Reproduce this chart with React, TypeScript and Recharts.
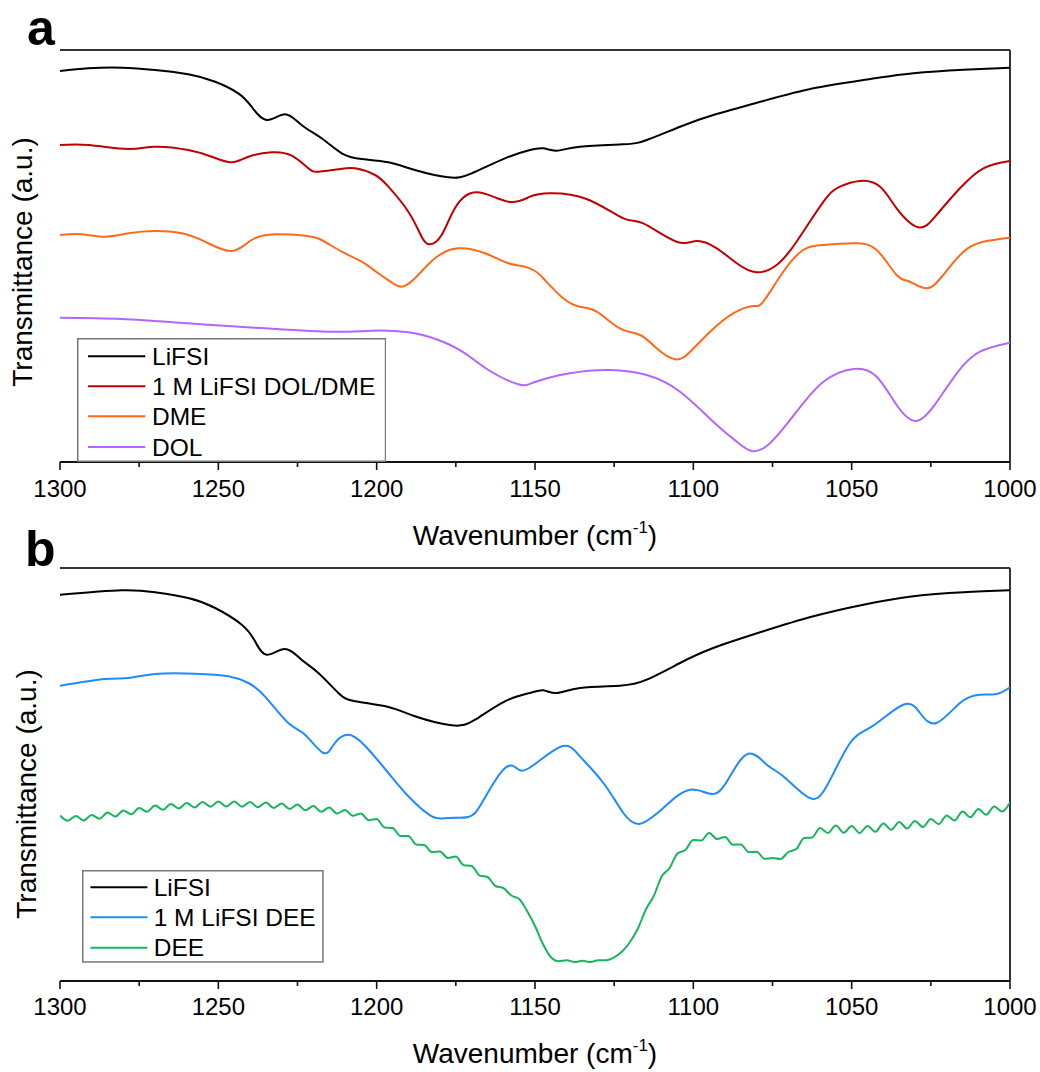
import React from 'react';
import { LineChart, Line, XAxis, YAxis, Legend, Customized, ReferenceLine } from 'recharts';

const FONT = "'Liberation Sans', Arial, Helvetica, sans-serif";
const W = 1040;
const H = 1072;

// x axis ticks (wavenumber, cm-1)
const wnTicks = [1300, 1275, 1250, 1225, 1200, 1175, 1150, 1125, 1100, 1075, 1050, 1025, 1000];
const wnLabels = [1300, 1250, 1200, 1150, 1100, 1050, 1000];

// series names and colours
const namesA = ['LiFSI', '1 M LiFSI DOL/DME', 'DME', 'DOL'];
const namesB = ['LiFSI', '1 M LiFSI DEE', 'DEE'];
const colorsA = ['#000000', '#C00000', '#FF6A1A', '#B266FF'];
const colorsB = ['#000000', '#1E8CFF', '#17B55C'];

type Pt = [number, number];

// panel a  (wavenumber, transmittance a.u.)
const lifsiA: Pt[] = [
  [1300, 391], [1291, 393.7], [1280.5, 394.3], [1270, 392], [1259.5, 387.7], [1251, 380.3], [1243.7, 368.7],
  [1239.5, 355.3], [1234.7, 342], [1229, 347.7], [1223.7, 337], [1217.4, 323.7], [1211, 308.7], [1204.7, 303],
  [1196.3, 299.7], [1187.9, 292], [1177.4, 284.7], [1170, 288.7], [1159.5, 303.7], [1151.6, 312], [1147.4, 313.7],
  [1143.2, 311.3], [1135.8, 315.3], [1122.1, 317.7], [1114.7, 322], [1104.2, 335.3], [1093.7, 347], [1077.9, 361],
  [1062.1, 373.7], [1046.3, 382], [1030.5, 388.7], [1014.7, 392.3], [1000, 394.3],
];
const dolDmeA: Pt[] = [
  [1300, 317], [1291, 317], [1278.4, 313], [1270, 315.3], [1259.5, 312], [1252.1, 305.3], [1245.8, 299.7],
  [1240.5, 305.3], [1233.2, 309.7], [1226.8, 306.3], [1221.6, 293.7], [1218.4, 290.3], [1212.1, 292.7],
  [1206.8, 293.7], [1200.5, 287], [1196.3, 275.3], [1190, 250.3], [1185.8, 225.3], [1183.2, 217.7], [1179.5, 227],
  [1175.3, 253.7], [1168.4, 269.7], [1158.4, 260.3], [1151.6, 265.3], [1145.3, 268.7], [1133.7, 263],
  [1122.1, 243.7], [1115.8, 238.7], [1105.3, 220.3], [1099, 221], [1092.6, 213.7], [1086.3, 198.7], [1080, 189.7],
  [1073.7, 197], [1067.4, 220.3], [1058.9, 260.3], [1053.7, 275.3], [1047.4, 281], [1041, 275.3], [1035.8, 253.7],
  [1028.9, 234.7], [1023.2, 247], [1015.8, 273.7], [1008.4, 293.7], [1000, 301],
];
const dmeA: Pt[] = [
  [1300, 227], [1293, 227.7], [1285.8, 225.3], [1278.4, 228.7], [1270, 231], [1261.6, 228.7], [1254.2, 220.3],
  [1245.8, 211], [1239.5, 222], [1232.1, 227.7], [1222.6, 226.3], [1217.4, 222], [1211, 210.3], [1204.7, 200.3],
  [1199.5, 188.7], [1195.3, 179.7], [1192.1, 175.3], [1187.9, 183.7], [1181.6, 203.7], [1174.2, 213.7],
  [1165.8, 208.7], [1158.4, 198.7], [1153.2, 195.3], [1150, 191], [1147.4, 183.7], [1141.1, 163.7],
  [1135.8, 155.3], [1130.5, 150.3], [1123.2, 133.7], [1116.8, 127], [1111.6, 113.7], [1105.8, 102.7],
  [1101, 110.3], [1094.7, 130.3], [1087.4, 148.7], [1081.1, 156], [1077.9, 160.3], [1071.6, 190.3], [1065.3, 212],
  [1058.9, 217], [1049.5, 218.7], [1042.1, 212], [1035.8, 187], [1031.6, 180.3], [1026.3, 173.7], [1021.1, 187],
  [1014.7, 210.3], [1008.4, 220.3], [1000, 224.3],
];
const dolA: Pt[] = [
  [1300, 144.3], [1280.5, 143], [1259.5, 138.7], [1238.4, 134.3], [1215.3, 130.3], [1201.6, 131.3], [1190, 129.7],
  [1180.5, 122], [1172.1, 108.7], [1164.7, 92], [1155.3, 77.7], [1150, 80], [1139, 88.7], [1126.3, 92],
  [1114.7, 87], [1104.2, 70.3], [1093.7, 40.3], [1086.3, 20.3], [1081.6, 11], [1075.8, 18.7], [1067.4, 50.3],
  [1058.9, 80.3], [1049.5, 93], [1042.1, 85.3], [1035.8, 57], [1030, 41], [1024.2, 55.3], [1016.8, 88.7],
  [1009.5, 110.3], [1000, 119.3],
];

// panel b
const lifsiB: Pt[] = [
  [1300, 386.3], [1280.5, 390.7], [1270, 388.7], [1259.5, 383], [1251, 373], [1242.6, 356.3], [1238.4, 339.7],
  [1234.7, 326.3], [1229, 332], [1223.7, 321.3], [1218.4, 308], [1212.1, 288], [1206.8, 279.7], [1196.3, 274],
  [1187.9, 264.7], [1176.3, 255.7], [1168.9, 261.3], [1159.5, 279.7], [1151.6, 288], [1147.4, 290.7],
  [1143.2, 288], [1135.8, 293], [1123.2, 295.3], [1114.7, 301.3], [1104.2, 318], [1093.7, 333], [1077.9, 349.7],
  [1062.1, 364.7], [1046.3, 376.3], [1030.5, 384.7], [1014.7, 388.7], [1000, 390.7],
];
const lifsiDeeB: Pt[] = [
  [1300, 295.3], [1285.8, 302], [1278.4, 303], [1270, 307], [1257.4, 307.3], [1246.8, 304.7], [1240.5, 298],
  [1235.3, 284.7], [1227.9, 258], [1222.6, 246.3], [1216.8, 228], [1213.2, 238], [1208.9, 246.3], [1203.7, 235.3],
  [1196.3, 208], [1190, 184.7], [1182.6, 164.7], [1177.4, 163], [1171.1, 164], [1166.8, 178], [1160.5, 209.7],
  [1156.3, 214], [1152.1, 212.5], [1142.1, 234], [1135.8, 224.7], [1128.4, 198], [1122.1, 168], [1116.8, 157.3],
  [1109.5, 173], [1101, 191.3], [1093.7, 187], [1088.4, 204.7], [1082.6, 227.3], [1076.8, 216.3], [1071.6, 204.7],
  [1063.7, 183.7], [1057.9, 194.7], [1050.5, 238], [1043.2, 255.3], [1033.7, 276.3], [1028.4, 268], [1023.2, 258],
  [1015.8, 278], [1009.5, 286.3], [1004.2, 287], [1000, 293.7],
];
const deeB: Pt[] = [
  [1300, 165.5], [1297.5, 160.3], [1295, 165], [1292.5, 160.5], [1290, 166], [1287.5, 162.3], [1285, 168.5],
  [1282.5, 164.5], [1280, 170.5], [1277.5, 166.8], [1275, 173], [1272.5, 169.3], [1270, 175.5], [1267.5, 171.3],
  [1265, 177], [1262.5, 172.5], [1260, 178], [1257.5, 173.5], [1255, 179], [1252.5, 174.3], [1250, 179.5],
  [1247.5, 174.5], [1245, 179.5], [1242.5, 174.3], [1240, 179], [1237.5, 173.8], [1235, 178.5], [1232.5, 173],
  [1230, 177.5], [1227.5, 172], [1225, 176.5], [1222.5, 170.8], [1220, 175], [1217.5, 169.3], [1215, 173.5],
  [1212.5, 167.5], [1210, 171], [1207.5, 165.3], [1205, 167.5], [1202.5, 160.8], [1200, 162], [1197.5, 153.5],
  [1195, 153], [1192.5, 145], [1190, 145], [1187.5, 136.5], [1185, 136], [1182.5, 128.8], [1180, 129.5],
  [1177.5, 123], [1175, 124.5], [1172.5, 115.8], [1170, 115], [1167.5, 105.5], [1165, 104], [1162.5, 95],
  [1160, 93], [1157.5, 85.5], [1155, 82], [1152.5, 70], [1150, 55], [1147.5, 37], [1145, 24], [1142.5, 19.8],
  [1140, 20.7], [1137.5, 19], [1135, 20.2], [1132.5, 19], [1130, 20.7], [1127.5, 20.8], [1125, 23.7],
  [1122.5, 29.5], [1120, 39], [1117.5, 52.5], [1115, 71.5], [1112.5, 85], [1110, 104.5], [1107.5, 113],
  [1105, 127.5], [1102.5, 131], [1100, 141], [1097.5, 140.5], [1095, 148], [1092.5, 142], [1090, 144],
  [1087.5, 136.3], [1085, 136.5], [1082.5, 128.9], [1080, 129.3], [1077.5, 122.2], [1075, 123], [1072.5, 122],
  [1070, 129], [1067.5, 132], [1065, 143], [1062.5, 143.5], [1060, 153], [1057.5, 148], [1055, 155.5],
  [1052.5, 148.3], [1050, 155], [1047.5, 148], [1045, 155], [1042.5, 149.3], [1040, 157.5], [1037.5, 151.3],
  [1035, 159], [1032.5, 152.5], [1030, 160], [1027.5, 154], [1025, 162], [1022.5, 156.8], [1020, 165.5],
  [1017.5, 160.5], [1015, 169.5], [1012.5, 163.8], [1010, 172], [1007.5, 166.3], [1005, 174.5], [1002.5, 169.5],
  [1000, 178.5],
];

const seriesA = [lifsiA, dolDmeA, dmeA, dolA];
const seriesB = [lifsiB, lifsiDeeB, deeB];
// curve interpolation per series (the DEE spectrum keeps its fine ripple)
const curvesA = ['natural', 'natural', 'natural', 'natural'];
const curvesB = ['natural', 'natural', 'monotone'];

const rows = (p: Pt[]) => p.map(([wn, t]) => ({ wn, t }));

const AXIS = '#111';
const FRAME = '#333';

const makeTick = (labelDy: number) => (props: any) => {
  const { x, y, payload } = props;
  const v = payload.value as number;
  const major = wnLabels.includes(v);
  return (
    <g>
      <line x1={x} x2={x} y1={y} y2={y + (major ? 8 : 5)} stroke={AXIS} strokeWidth={1.6} />
      {major && (
        <text x={x} y={y + labelDy} textAnchor="middle" fontSize={24} fontFamily={FONT} fill="#000">
          {v}
        </text>
      )}
    </g>
  );
};

type LegendProps = {
  names: string[];
  colors: string[];
  width: number;
  height: number;
  lineX0: number;
  lineX1: number;
  textX: number;
  rowY: number[];
};

function LegendBox({ names, colors, width, height, lineX0, lineX1, textX, rowY }: LegendProps) {
  return (
    <svg width={width} height={height} style={{ display: 'block' }}>
      <rect x={0.75} y={0.75} width={width - 1.5} height={height - 1.5} fill="#fff" stroke="#777" strokeWidth={1.5} />
      {names.map((n, i) => (
        <g key={n}>
          <line x1={lineX0} x2={lineX1} y1={rowY[i]} y2={rowY[i]} stroke={colors[i]} strokeWidth={2} />
          <text x={textX} y={rowY[i] + 8.6} fontSize={24.5} fontFamily={FONT} fill="#000">
            {n}
          </text>
        </g>
      ))}
    </svg>
  );
}

type PanelProps = {
  series: Pt[][];
  curves: string[];
  colors: string[];
  names: string[];
  top: number;
  bottom: number;
  tickDy: number;
  titleY: number;
  yTitleX: number;
  yTitleY: number;
  letter: string;
  letterX: number;
  letterY: number;
  legend: Omit<LegendProps, 'names' | 'colors'> & { left: number; top: number };
};

function Panel(p: PanelProps) {
  const plotH = p.bottom - p.top;
  const xAxisH = 60;
  const Tick = makeTick(p.tickDy);
  const { left: lgLeft, top: lgTop, ...lg } = p.legend;
  return (
    <div style={{ position: 'absolute', left: 0, top: 0, width: W, height: H }}>
      <LineChart
        width={W}
        height={H}
        margin={{ top: p.top, left: 60, right: 30, bottom: H - p.bottom - xAxisH }}
      >
        <XAxis
          dataKey="wn"
          type="number"
          domain={[1000, 1300]}
          reversed
          ticks={wnTicks}
          interval={0}
          tick={Tick}
          tickLine={false}
          tickSize={0}
          tickMargin={0}
          height={xAxisH}
          axisLine={{ stroke: AXIS, strokeWidth: 2 }}
          allowDataOverflow
        />
        <YAxis
          type="number"
          domain={[0, plotH]}
          width={0}
          tick={false}
          tickLine={false}
          axisLine={{ stroke: AXIS, strokeWidth: 2 }}
          allowDataOverflow
        />
        <ReferenceLine y={plotH} stroke={FRAME} strokeWidth={2} ifOverflow="visible" />
        <ReferenceLine x={1000} stroke={FRAME} strokeWidth={2} ifOverflow="visible" />
        {p.series.map((s, i) => (
          <Line
            key={p.names[i]}
            data={rows(s)}
            dataKey="t"
            name={p.names[i]}
            type={p.curves[i] as any}
            stroke={p.colors[i]}
            strokeWidth={2}
            dot={false}
            activeDot={false}
            isAnimationActive={false}
          />
        ))}
        <Legend
          layout="horizontal"
          verticalAlign="middle"
          align="center"
          wrapperStyle={{ left: lgLeft, top: lgTop, width: lg.width, height: lg.height }}
          content={() => <LegendBox names={p.names} colors={p.colors} {...lg} />}
        />
        <Customized
          component={() => (
            <g fontFamily={FONT} fill="#000">
              <text x={535} y={p.titleY} textAnchor="middle" fontSize={28}>
                Wavenumber (cm
                <tspan dy={-12} fontSize={17}>-1</tspan>
                <tspan dy={12}>)</tspan>
              </text>
              <text
                transform={`translate(${p.yTitleX},${p.yTitleY}) rotate(-90)`}
                textAnchor="middle"
                fontSize={28}
              >
                Transmittance (a.u.)
              </text>
              <text x={p.letterX} y={p.letterY} fontSize={50} fontWeight="bold">
                {p.letter}
              </text>
            </g>
          )}
        />
      </LineChart>
    </div>
  );
}

export default function App() {
  return (
    <div style={{ position: 'absolute', left: 0, top: 0, width: W, height: H, background: '#fff', overflow: 'hidden' }}>
      <Panel
        series={seriesA}
        curves={curvesA}
        colors={colorsA}
        names={namesA}
        top={50}
        bottom={462}
        tickDy={35}
        titleY={545}
        yTitleX={32}
        yTitleY={262}
        letter="a"
        letterX={27}
        letterY={45}
        legend={{ left: 76.7, top: 337.7, width: 309.3, height: 124, lineX0: 11, lineX1: 68.3, textX: 75, rowY: [18.3, 48.3, 78.3, 109] }}
      />
      <Panel
        series={seriesB}
        curves={curvesB}
        colors={colorsB}
        names={namesB}
        top={568}
        bottom={981}
        tickDy={34}
        titleY={1063}
        yTitleX={36}
        yTitleY={794}
        letter="b"
        letterX={25}
        letterY={566}
        legend={{ left: 82.3, top: 870, width: 241.7, height: 92.7, lineX0: 8.4, lineX1: 65.4, textX: 71.7, rowY: [17.3, 47.3, 77.7] }}
      />
    </div>
  );
}
